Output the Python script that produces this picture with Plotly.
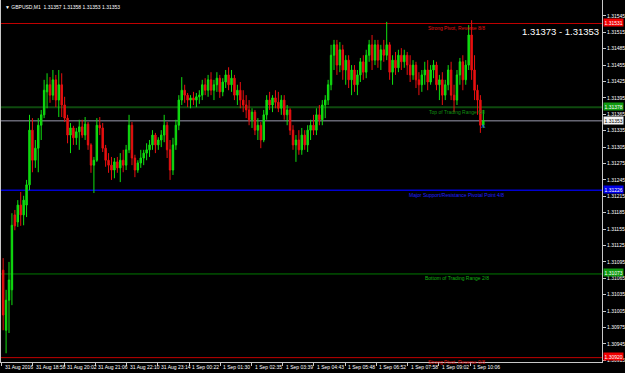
import plotly.graph_objects as go

# ---- data (GBPUSD M1, each candle = 6 one-minute bars) ----
opens = [1.31080,1.30970,1.31025,1.31044,1.31181,1.31168,1.31199,1.31181,1.31199,1.31236,
1.31336,1.31281,1.31303,1.31345,1.31364,1.31406,1.31419,1.31400,1.31428,1.31391,
1.31419,1.31382,1.31358,1.31327,1.31340,1.31322,1.31333,1.31342,1.31327,1.31347,
1.31309,1.31272,1.31281,1.31345,1.31340,1.31303,1.31281,1.31272,1.31263,1.31278,
1.31267,1.31281,1.31272,1.31300,1.31345,1.31285,1.31263,1.31276,1.31285,1.31294,
1.31300,1.31309,1.31327,1.31309,1.31318,1.31327,1.31345,1.31300,1.31263,1.31309,
1.31345,1.31391,1.31409,1.31400,1.31391,1.31395,1.31391,1.31397,1.31400,1.31419,
1.31409,1.31428,1.31409,1.31419,1.31431,1.31406,1.31424,1.31437,1.31419,1.31431,
1.31400,1.31409,1.31391,1.31382,1.31373,1.31355,1.31369,1.31336,1.31345,1.31318,
1.31364,1.31391,1.31382,1.31395,1.31387,1.31376,1.31391,1.31364,1.31373,1.31336,
1.31309,1.31318,1.31300,1.31327,1.31309,1.31336,1.31345,1.31336,1.31364,1.31355,
1.31382,1.31391,1.31419,1.31473,1.31492,1.31455,1.31483,1.31446,1.31464,1.31428,
1.31446,1.31419,1.31437,1.31461,1.31442,1.31473,1.31492,1.31464,1.31492,1.31464,
1.31483,1.31473,1.31492,1.31442,1.31464,1.31450,1.31473,1.31461,1.31473,1.31455,
1.31437,1.31455,1.31428,1.31419,1.31437,1.31446,1.31424,1.31446,1.31455,1.31419,
1.31428,1.31400,1.31419,1.31446,1.31400,1.31391,1.31437,1.31461,1.31428,1.31455,
1.31510,1.31446,1.31409,1.31391,1.31345]
highs = [1.31102,1.31044,1.31095,1.31184,1.31190,1.31208,1.31223,1.31216,1.31245,1.31364,
1.31358,1.31318,1.31358,1.31373,1.31428,1.31440,1.31433,1.31446,1.31437,1.31446,
1.31440,1.31397,1.31364,1.31349,1.31344,1.31340,1.31355,1.31355,1.31360,1.31351,
1.31312,1.31287,1.31358,1.31360,1.31349,1.31309,1.31294,1.31287,1.31285,1.31287,
1.31294,1.31300,1.31309,1.31364,1.31351,1.31291,1.31281,1.31300,1.31300,1.31312,
1.31318,1.31336,1.31331,1.31323,1.31336,1.31364,1.31351,1.31318,1.31322,1.31355,
1.31400,1.31433,1.31419,1.31404,1.31400,1.31406,1.31404,1.31409,1.31428,1.31431,
1.31437,1.31442,1.31428,1.31442,1.31437,1.31431,1.31446,1.31451,1.31446,1.31437,
1.31419,1.31424,1.31409,1.31400,1.31391,1.31376,1.31373,1.31358,1.31351,1.31373,
1.31400,1.31406,1.31400,1.31409,1.31406,1.31400,1.31400,1.31382,1.31376,1.31345,
1.31327,1.31336,1.31340,1.31336,1.31345,1.31355,1.31364,1.31376,1.31382,1.31391,
1.31400,1.31428,1.31492,1.31501,1.31501,1.31497,1.31492,1.31473,1.31473,1.31455,
1.31455,1.31446,1.31468,1.31473,1.31483,1.31501,1.31510,1.31501,1.31501,1.31492,
1.31501,1.31534,1.31497,1.31473,1.31479,1.31483,1.31486,1.31483,1.31479,1.31473,
1.31464,1.31461,1.31442,1.31446,1.31461,1.31464,1.31455,1.31464,1.31461,1.31437,
1.31442,1.31428,1.31455,1.31461,1.31419,1.31446,1.31468,1.31473,1.31464,1.31528,
1.31537,1.31473,1.31419,1.31400,1.31373]
lows = [1.30970,1.30928,1.30965,1.31016,1.31153,1.31159,1.31161,1.31162,1.31177,1.31226,
1.31259,1.31267,1.31259,1.31318,1.31358,1.31376,1.31386,1.31391,1.31378,1.31360,
1.31360,1.31351,1.31312,1.31294,1.31309,1.31309,1.31300,1.31322,1.31318,1.31300,
1.31258,1.31221,1.31278,1.31327,1.31296,1.31269,1.31258,1.31245,1.31248,1.31258,
1.31241,1.31259,1.31263,1.31294,1.31272,1.31250,1.31258,1.31267,1.31272,1.31281,
1.31287,1.31300,1.31294,1.31300,1.31305,1.31314,1.31285,1.31245,1.31254,1.31300,
1.31336,1.31382,1.31386,1.31378,1.31376,1.31382,1.31378,1.31384,1.31391,1.31400,
1.31397,1.31400,1.31391,1.31406,1.31395,1.31398,1.31413,1.31409,1.31406,1.31391,
1.31382,1.31376,1.31369,1.31358,1.31345,1.31340,1.31327,1.31318,1.31303,1.31314,
1.31355,1.31373,1.31369,1.31376,1.31369,1.31364,1.31355,1.31345,1.31327,1.31300,
1.31278,1.31291,1.31291,1.31300,1.31296,1.31318,1.31327,1.31327,1.31345,1.31345,
1.31358,1.31382,1.31409,1.31446,1.31437,1.31442,1.31428,1.31419,1.31413,1.31400,
1.31406,1.31400,1.31424,1.31428,1.31431,1.31461,1.31446,1.31455,1.31450,1.31446,
1.31461,1.31464,1.31428,1.31419,1.31437,1.31442,1.31446,1.31450,1.31437,1.31424,
1.31428,1.31413,1.31400,1.31406,1.31419,1.31409,1.31419,1.31431,1.31409,1.31391,
1.31382,1.31391,1.31409,1.31391,1.31369,1.31382,1.31419,1.31409,1.31419,1.31446,
1.31428,1.31391,1.31364,1.31331,1.31340]
closes = [1.30998,1.31025,1.31062,1.31162,1.31161,1.31199,1.31181,1.31208,1.31236,1.31336,
1.31281,1.31303,1.31345,1.31364,1.31409,1.31419,1.31400,1.31428,1.31391,1.31419,
1.31382,1.31358,1.31327,1.31340,1.31322,1.31333,1.31342,1.31327,1.31347,1.31309,
1.31272,1.31281,1.31345,1.31340,1.31303,1.31281,1.31272,1.31263,1.31278,1.31267,
1.31281,1.31272,1.31300,1.31345,1.31285,1.31263,1.31276,1.31285,1.31294,1.31300,
1.31309,1.31327,1.31309,1.31318,1.31327,1.31345,1.31300,1.31263,1.31309,1.31345,
1.31391,1.31409,1.31400,1.31391,1.31395,1.31391,1.31397,1.31400,1.31419,1.31409,
1.31428,1.31409,1.31419,1.31431,1.31406,1.31424,1.31437,1.31419,1.31431,1.31400,
1.31409,1.31391,1.31382,1.31373,1.31355,1.31369,1.31336,1.31345,1.31318,1.31364,
1.31391,1.31382,1.31395,1.31387,1.31376,1.31391,1.31364,1.31373,1.31336,1.31309,
1.31318,1.31300,1.31327,1.31309,1.31336,1.31345,1.31336,1.31364,1.31355,1.31382,
1.31391,1.31419,1.31473,1.31492,1.31455,1.31483,1.31446,1.31464,1.31428,1.31446,
1.31419,1.31437,1.31461,1.31442,1.31473,1.31492,1.31464,1.31492,1.31464,1.31483,
1.31473,1.31492,1.31442,1.31464,1.31450,1.31473,1.31461,1.31473,1.31455,1.31437,
1.31455,1.31428,1.31419,1.31437,1.31446,1.31424,1.31446,1.31455,1.31419,1.31428,
1.31400,1.31419,1.31446,1.31400,1.31391,1.31437,1.31461,1.31428,1.31455,1.31510,
1.31446,1.31409,1.31391,1.31345,1.31353]
bar_index = list(range(3, 6 * len(opens), 6))  # centre bar (M1 index) of each candle

tick_bars = [0, 64, 128, 192, 256, 320, 384, 448, 512, 576, 640, 704, 768, 832, 896, 960]
tick_labels = ["31 Aug 2016", "31 Aug 18:58", "31 Aug 20:02", "31 Aug 21:06", "31 Aug 22:10",
               "31 Aug 23:14", "1 Sep 00:22", "1 Sep 01:30", "1 Sep 02:35", "1 Sep 03:39",
               "1 Sep 04:43", "1 Sep 05:48", "1 Sep 06:52", "1 Sep 07:58", "1 Sep 09:02",
               "1 Sep 10:06"]

level_values = [1.31531, 1.31378, 1.31226, 1.31073, 1.30920]
level_names = ["Strong Pivot, Reverse 8/8", "Top of Trading Range 6/8",
               "Major Support/Resistance Pivotal Point 4/8", "Bottom of Trading Range 2/8",
               "Strong Pivot, Reverse 0/8"]
bid_price = 1.31353
ask_bid_text = "1.31373 - 1.31353"
title_text = "GBPUSD,M1  1.31357 1.31358 1.31353 1.31353"

# ---- styles ----
level_line_colors = ["#C00000", "#0E4A0E", "#0000D0", "#007A00", "#C00000"]
level_line_widths = [1, 2, 1.5, 1, 1]
level_text_colors = ["#E01010", "#109010", "#2020FF", "#10B010", "#E01010"]
level_box_colors = ["#F00000", "#109A10", "#0000E8", "#109A10", "#F00000"]
FONT = "Liberation Sans"
AX = "#C8C8C8"

fig = go.Figure()
fig.add_trace(go.Candlestick(
    x=bar_index, open=opens, high=highs, low=lows, close=closes,
    increasing=dict(line=dict(color="#10E010", width=1), fillcolor="#10D010"),
    decreasing=dict(line=dict(color="#E81010", width=1), fillcolor="#E81010"),
    whiskerwidth=0, hoverinfo="skip", showlegend=False))

shapes = []
annotations = []
for v, name, lc, lw, tc, bc in zip(level_values, level_names, level_line_colors,
                                   level_line_widths, level_text_colors, level_box_colors):
    shapes.append(dict(type="line", xref="paper", x0=0, x1=1, yref="y", y0=v, y1=v,
                       line=dict(color=lc, width=lw), layer="below"))
    annotations.append(dict(text=name, xref="paper", x=0.758, yref="y", y=v,
                            xanchor="center", yanchor="top", yshift=0.5, showarrow=False,
                            font=dict(family=FONT, size=5, color=tc)))
    annotations.append(dict(text=f"{v:.5f}", xref="paper", x=1, yref="y", y=v,
                            xanchor="left", yanchor="middle", xshift=1, yshift=1,
                            showarrow=False, bgcolor=bc, borderpad=0.5,
                            font=dict(family=FONT, size=5, color="white")))

shapes.append(dict(type="line", xref="paper", x0=0, x1=1, yref="y", y0=bid_price, y1=bid_price,
                   line=dict(color="#9A9AAE", width=1), layer="below"))
annotations.append(dict(text=f"{bid_price:.5f}", xref="paper", x=1, yref="y", y=bid_price,
                        xanchor="left", yanchor="middle", xshift=1, showarrow=False,
                        bgcolor="#F4F4F4", borderpad=0.5,
                        font=dict(family=FONT, size=5, color="black")))
# small blue price arrow under the last bar
annotations.append(dict(text="\u02c4", xref="x", x=bar_index[-1], yref="y", y=bid_price,
                        xanchor="center", yanchor="top", yshift=1, showarrow=False,
                        font=dict(family=FONT, size=8, color="#3050FF")))

for tb, tl in zip(tick_bars, tick_labels):
    annotations.append(dict(text=tl, xref="x", x=tb, yref="paper", y=0, xanchor="left",
                            yanchor="top", xshift=1, yshift=0, showarrow=False,
                            font=dict(family=FONT, size=5, color="white")))

annotations.append(dict(text="\u25bc " + title_text, xref="paper", x=0.003, yref="paper", y=1,
                        xanchor="left", yanchor="top", yshift=-2, showarrow=False,
                        font=dict(family=FONT, size=5, color="white")))
annotations.append(dict(text=ask_bid_text, xref="paper", x=0.9985, yref="paper", y=0.912,
                        xanchor="right", yanchor="middle", showarrow=False,
                        font=dict(family=FONT, size=9.5, color="white")))

fig.update_layout(
    width=625, height=373,
    paper_bgcolor="black", plot_bgcolor="black",
    margin=dict(l=1, r=21, t=0, b=11),
    showlegend=False,
    shapes=shapes, annotations=annotations,
    xaxis=dict(range=[-1.4, 1230.2], showgrid=False, zeroline=False,
               rangeslider=dict(visible=False), tickmode="array", tickvals=tick_bars,
               ticks="outside", ticklen=3, tickcolor=AX, showticklabels=False,
               showline=True, linecolor=AX, linewidth=1),
    yaxis=dict(side="right", range=[1.30912, 1.31574], tick0=1.30915, dtick=0.0003,
               tickformat=".5f", ticks="outside", ticklen=3, tickcolor=AX,
               tickfont=dict(family=FONT, size=5, color="white"),
               showgrid=False, zeroline=False, showline=True, linecolor=AX,
               linewidth=1, mirror=True),
)

fig.write_html("out.html")
